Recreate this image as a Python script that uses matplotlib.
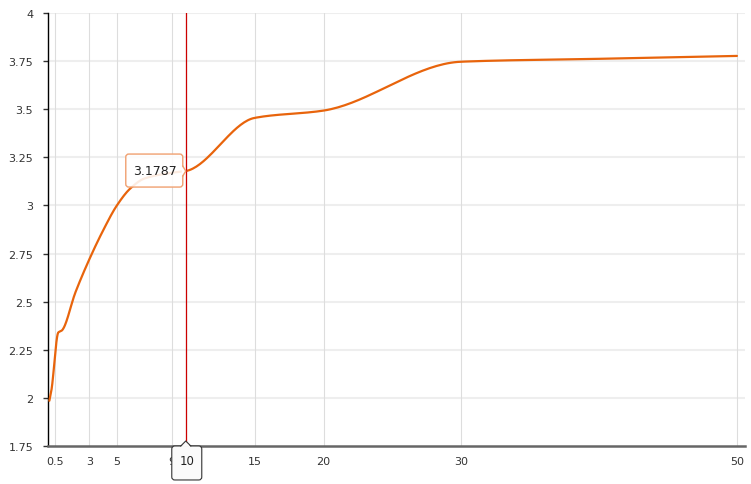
import matplotlib
matplotlib.use("Agg")
import matplotlib.pyplot as plt
from matplotlib.patches import FancyBboxPatch, Polygon
from matplotlib.transforms import IdentityTransform, ScaledTranslation
import numpy as np

# data
x_vals = [0.1, 0.25, 0.75, 1, 2, 3, 4, 5, 6, 7, 9, 10, 15, 20, 30, 40, 50]
y_vals = [1.985, 2.04, 2.34, 2.35, 2.55, 2.72, 2.87, 3.0, 3.09, 3.14, 3.17, 3.1787,
          3.455, 3.493, 3.747, 3.762, 3.777]
x_ticks = [0.5, 3, 5, 9, 10, 15, 20, 30, 50]
y_ticks = [1.75, 2, 2.25, 2.5, 2.75, 3, 3.25, 3.5, 3.75, 4]
pointer_x = 10
pointer_label = "3.1787"


def monotone_curve(xs, ys, n=40):
    # Fritsch-Carlson monotone cubic, used only to draw a smooth line
    xs = np.asarray(xs, float)
    ys = np.asarray(ys, float)
    h = np.diff(xs)
    d = np.diff(ys) / h
    m = np.zeros_like(ys)
    m[0], m[-1] = d[0], d[-1]
    for i in range(1, len(xs) - 1):
        if d[i - 1] * d[i] <= 0:
            m[i] = 0
        else:
            w1 = 2 * h[i] + h[i - 1]
            w2 = h[i] + 2 * h[i - 1]
            m[i] = (w1 + w2) / (w1 / d[i - 1] + w2 / d[i])
    out_x, out_y = [], []
    for i in range(len(xs) - 1):
        t = np.linspace(0, 1, n)
        h00 = 2 * t**3 - 3 * t**2 + 1
        h10 = t**3 - 2 * t**2 + t
        h01 = -2 * t**3 + 3 * t**2
        h11 = t**3 - t**2
        out_x.extend(xs[i] + t * h[i])
        out_y.extend(h00 * ys[i] + h10 * h[i] * m[i] + h01 * ys[i + 1] + h11 * h[i] * m[i + 1])
    return np.array(out_x), np.array(out_y)


fig = plt.figure(figsize=(7.51, 4.85), dpi=100)
ax = fig.add_axes([0.0639, 0.0784, 0.928, 0.8927])

sx, sy = monotone_curve(x_vals, y_vals)
ax.plot(sx, sy, color="#e8640c", lw=1.6, zorder=4, solid_capstyle="round")

ax.set_xlim(0, 50.58)
ax.set_ylim(1.75, 4)
ax.set_xticks(x_ticks)
# the pointer's own tick label is drawn in the box below the axis
ax.set_xticklabels(["" if v == pointer_x else f"{v:g}" for v in x_ticks])
ax.set_yticks(y_ticks)
ax.set_yticklabels([f"{v:g}" for v in y_ticks])

for v in y_ticks[1:]:
    ax.axhline(v, color="#eeeeee", lw=1.5, zorder=1)
for v in x_ticks:
    ax.axvline(v, color="#dddddd", lw=0.8, zorder=1)

for s in ["top", "right"]:
    ax.spines[s].set_visible(False)
ax.spines["left"].set_color("black")
ax.spines["left"].set_linewidth(1.0)
ax.spines["bottom"].set_color("#666666")
ax.spines["bottom"].set_linewidth(1.8)

ax.tick_params(axis="y", length=3.6, width=1, color="#333333", pad=7,
               labelsize=8, labelcolor="#333333")
ax.tick_params(axis="x", length=0, pad=7, labelsize=8, labelcolor="#333333")

# pointer line
ax.axvline(pointer_x, color="#cc0000", lw=0.9, zorder=5)

# tooltip on the curve (sizes in pixels, anchored at the data point)
py = y_vals[x_vals.index(pointer_x)]
tip = IdentityTransform() + ScaledTranslation(pointer_x, py, ax.transData)
ax.add_patch(FancyBboxPatch((-60, -16), 57, 33, boxstyle="round,pad=0,rounding_size=3",
                            fc=(1, 1, 1, 0.88), ec="#f0a070", lw=1, transform=tip, zorder=8,
                            clip_on=False))
ax.add_patch(Polygon([(-4, -5), (0, 0), (-4, 5)], closed=True, fc="white", ec="none",
                     transform=tip, zorder=9, clip_on=False))
ax.plot([-3, 0, -3], [-5, 0, 5], color="#f0a070", lw=1, transform=tip, zorder=9,
        clip_on=False)
ax.text(-31, 0.5, pointer_label, transform=tip, ha="center", va="center",
        fontsize=9, color="#222222", zorder=10)

# axis pointer label box under the x axis
lab = IdentityTransform() + ScaledTranslation(pointer_x, 1.75, ax.transData)
ax.add_patch(FancyBboxPatch((-14, -34), 30, 34, boxstyle="round,pad=0,rounding_size=3",
                            fc="#fafafa", ec="#333333", lw=0.8, transform=lab, zorder=10,
                            clip_on=False))
ax.add_patch(Polygon([(-5, -1), (0, 5), (5, -1)], closed=True, fc="#fafafa", ec="none",
                     transform=lab, zorder=11, clip_on=False))
ax.plot([-5, 0, 5], [0, 5, 0], color="#333333", lw=0.8, transform=lab, zorder=11,
        clip_on=False)
ax.text(1, -15, f"{pointer_x:g}", transform=lab, ha="center", va="center",
        fontsize=8.5, color="#222222", zorder=12)

fig.savefig("out.png", dpi=100)
